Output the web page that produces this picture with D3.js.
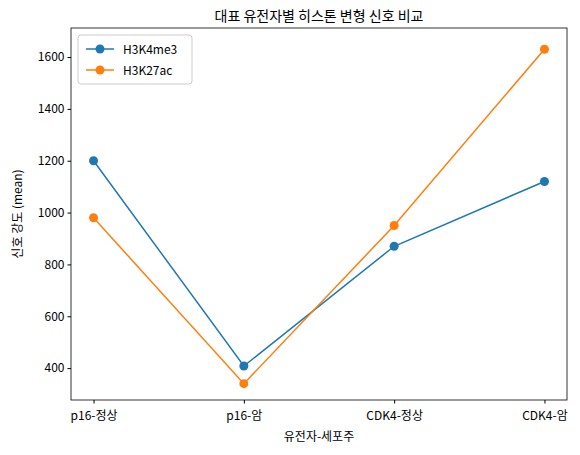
<!DOCTYPE html>
<html><head><meta charset="utf-8">
<script src="https://cdn.jsdelivr.net/npm/d3@7"></script>
<style>body{margin:0;background:#fff}text{font-family:"Noto Sans CJK KR","Noto Sans",sans-serif}</style>
</head><body>
<script>
var categories = ["p16-정상", "p16-암", "CDK4-정상", "CDK4-암"];
var h3k4me3 = [1200, 408, 870, 1120];
var h3k27ac = [980, 340, 950, 1630];
var yTicks = [400, 600, 800, 1000, 1200, 1400, 1600];
var seriesNames = ["H3K4me3", "H3K27ac"];
var colors = ["#1f77b4", "#ff7f0e"];

var plotLeft = 71, plotRight = 567, plotTop = 28, plotBottom = 400;
var svg = d3.select("body").append("svg").attr("width", 580).attr("height", 455);

var x = d3.scaleLinear().domain([-0.15, 3.15]).range([plotLeft, plotRight]);
var y = d3.scaleLinear().domain([277, 1712]).range([plotBottom, plotTop]);

// axes
var xAxis = svg.append("g").attr("transform", "translate(0," + plotBottom + ")")
	.call(d3.axisBottom(x).tickValues([0, 1, 2, 3]).tickFormat(function(d){ return categories[d]; }).tickSizeOuter(0).tickSize(3.5));
var yAxis = svg.append("g").attr("transform", "translate(" + plotLeft + ",0)")
	.call(d3.axisLeft(y).tickValues(yTicks).tickFormat(d3.format("d")).tickSizeOuter(0).tickSize(3.5));
[xAxis, yAxis].forEach(function(a){
	a.select(".domain").remove();
	a.selectAll("text").attr("font-size", "12px").attr("fill", "#000");
});
xAxis.selectAll("text").attr("dy", "1.1em");

svg.append("rect").attr("x", plotLeft).attr("y", plotTop).attr("width", plotRight - plotLeft).attr("height", plotBottom - plotTop)
	.attr("fill", "none").attr("stroke", "#000").attr("stroke-width", 0.8);

// lines
[h3k4me3, h3k27ac].forEach(function(vals, s){
	var line = d3.line().x(function(d, i){ return x(i); }).y(function(d){ return y(d); });
	svg.append("path").datum(vals).attr("d", line).attr("fill", "none").attr("stroke", colors[s]).attr("stroke-width", 1.5);
	svg.selectAll(".pt" + s).data(vals).enter().append("circle")
		.attr("cx", function(d, i){ return x(i); }).attr("cy", function(d){ return y(d); })
		.attr("r", 4.5).attr("fill", colors[s]);
});

// titles
svg.append("text").attr("x", (plotLeft + plotRight) / 2).attr("y", 21).attr("text-anchor", "middle")
	.attr("font-size", "14px").text("대표 유전자별 히스톤 변형 신호 비교");
svg.append("text").attr("x", (plotLeft + plotRight) / 2).attr("y", 441).attr("text-anchor", "middle")
	.attr("font-size", "12px").text("유전자-세포주");
svg.append("text").attr("transform", "translate(22," + (plotTop + plotBottom) / 2 + ") rotate(-90)")
	.attr("text-anchor", "middle").attr("font-size", "12px").text("신호 강도 (mean)");

// legend
var lg = svg.append("g").attr("transform", "translate(78,35)");
lg.append("rect").attr("width", 114).attr("height", 49).attr("rx", 3).attr("fill", "#fff")
	.attr("stroke", "#ccc");
seriesNames.forEach(function(n, i){
	var g = lg.append("g").attr("transform", "translate(8," + (14 + i * 21) + ")");
	g.append("line").attr("x1", 0).attr("x2", 28).attr("stroke", colors[i]).attr("stroke-width", 1.5);
	g.append("circle").attr("cx", 14).attr("r", 4.5).attr("fill", colors[i]);
	g.append("text").attr("x", 37).attr("y", 4.5).attr("font-size", "12px").text(n);
});
</script>
</body></html>
